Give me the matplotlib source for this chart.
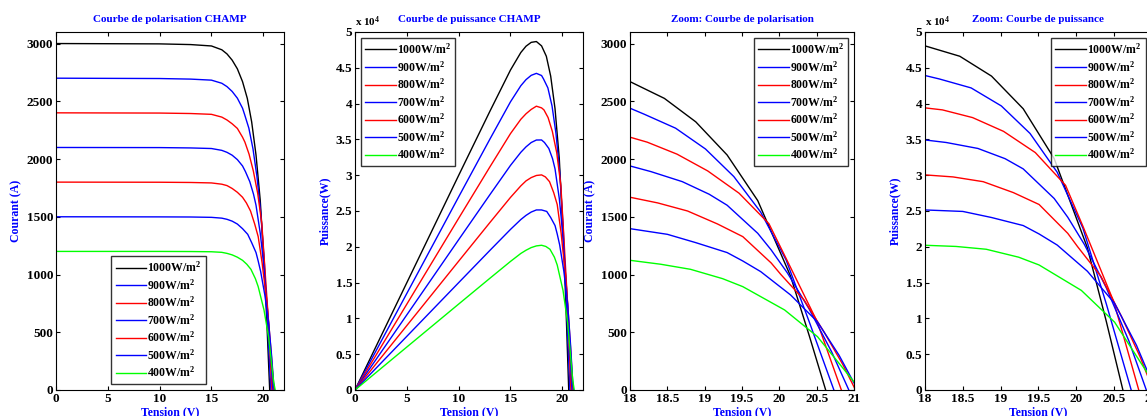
import numpy as np
import matplotlib
matplotlib.use('Agg')
import matplotlib.pyplot as plt
from matplotlib.ticker import FuncFormatter

plt.rcParams['font.family'] = ['Liberation Serif', 'DejaVu Serif']
plt.rcParams['font.weight'] = 'bold'
plt.rcParams['mathtext.fontset'] = 'custom'
plt.rcParams['mathtext.rm'] = 'Liberation Serif:bold'
plt.rcParams['mathtext.it'] = 'Liberation Serif:bold'
plt.rcParams['mathtext.bf'] = 'Liberation Serif:bold'

# I-V points (tension in V, courant in A)
V_1000 = [0, 10, 13, 15, 16, 16.5, 17, 17.5, 18, 18.46, 18.88, 19.30, 19.71, 20.15, 20.40, 20.62]
I_1000 = [3000, 2997, 2991, 2979, 2946, 2910, 2856, 2781, 2670, 2525, 2322, 2035, 1640, 985, 470, 0]

V_900 = [0, 10, 13, 15, 16, 16.5, 17, 17.5, 18, 18.19, 18.61, 19.01, 19.39, 19.75, 20.09, 20.40, 20.73]
I_900 = [2700, 2697, 2692, 2683, 2656, 2627, 2585, 2527, 2440, 2388, 2267, 2087, 1848, 1540, 1126, 590, 0]

V_800 = [0, 10, 13, 15, 16, 16.5, 17, 17.5, 18, 18.23, 18.63, 19.04, 19.46, 19.86, 20.10, 20.50, 20.83]
I_800 = [2400, 2398, 2394, 2387, 2363, 2338, 2305, 2265, 2189, 2146, 2042, 1897, 1704, 1440, 1126, 600, 0]

V_700 = [0, 10, 13, 15, 16, 16.5, 17, 17.5, 18, 18.28, 18.70, 19.06, 19.30, 19.71, 19.89, 20.11, 20.40, 20.70, 20.93]
I_700 = [2100, 2099, 2096, 2091, 2075, 2058, 2033, 1995, 1940, 1891, 1804, 1695, 1600, 1357, 1213, 1011, 700, 330, 0]

V_600 = [0, 10, 13, 15, 16, 16.5, 17, 17.5, 18, 18.37, 18.77, 19.17, 19.51, 19.89, 20.02, 20.33, 20.60, 20.85, 21.02]
I_600 = [1800, 1799, 1797, 1793, 1782, 1770, 1745, 1712, 1669, 1620, 1550, 1438, 1328, 1100, 1000, 780, 500, 220, 0]

V_500 = [0, 10, 13, 15, 16, 16.5, 17, 17.5, 18, 18.50, 18.88, 19.30, 19.51, 19.75, 20.15, 20.51, 20.80, 21.00, 21.08]
I_500 = [1500, 1499, 1498, 1495, 1488, 1478, 1462, 1437, 1397, 1348, 1276, 1190, 1117, 1025, 823, 590, 300, 60, 0]

V_400 = [0, 10, 13, 15, 16, 16.5, 17, 17.5, 18, 18.41, 18.81, 19.24, 19.51, 20.07, 20.51, 21.00, 21.15]
I_400 = [1200, 1200, 1199, 1197, 1192, 1183, 1170, 1150, 1123, 1089, 1045, 964, 895, 693, 462, 70, 0]

curves = [(V_1000, I_1000), (V_900, I_900), (V_800, I_800), (V_700, I_700),
          (V_600, I_600), (V_500, I_500), (V_400, I_400)]
labels = ['1000W/m$^2$', '900W/m$^2$', '800W/m$^2$', '700W/m$^2$',
          '600W/m$^2$', '500W/m$^2$', '400W/m$^2$']
colors = ['#000000', '#0000ff', '#ff0000', '#0000ff', '#ff0000', '#0000ff', '#00ff00']

fig = plt.figure(figsize=(11.47, 4.16), dpi=100)
h = 0.8606
b = 0.0625
ax1 = fig.add_axes([0.0488, b, 0.1988, h])
ax2 = fig.add_axes([0.3095, b, 0.1988, h])
ax3 = fig.add_axes([0.5493, b, 0.1953, h])
ax4 = fig.add_axes([0.8065, b, 0.1975, h])

blue = '#0000ff'
fs = 9.5

for ax, power in [(ax1, False), (ax2, True), (ax3, False), (ax4, True)]:
    for (v, i), c, lab in zip(curves, colors, labels):
        v = np.array(v, dtype=float)
        i = np.array(i, dtype=float)
        y = v * i if power else i
        ax.plot(v, y, color=c, lw=1.0, label=lab)
    ax.tick_params(direction='in', top=True, right=True, length=3, labelsize=fs, pad=2)
    for t in ax.get_xticklabels() + ax.get_yticklabels():
        t.set_fontweight('bold')
    ax.set_xlabel('Tension (V)', color=blue, fontsize=8.5, fontweight='bold', labelpad=1)

for ax in (ax1, ax3):
    ax.set_ylim(0, 3100)
    ax.set_yticks(np.arange(0, 3001, 500))
    ax.set_ylabel('Courant (A)', color=blue, fontsize=8.5, fontweight='bold', labelpad=3)
for ax in (ax2, ax4):
    ax.set_ylim(0, 50000)
    ax.set_yticks(np.arange(0, 50001, 5000))
    ax.yaxis.set_major_formatter(FuncFormatter(lambda val, pos: '%g' % (val / 1e4)))
    ax.set_ylabel('Puissance(W)', color=blue, fontsize=8.5, fontweight='bold', labelpad=3)
    ax.text(0.0, 1.008, r'x 10$^{4}$', transform=ax.transAxes, ha='left', va='bottom', fontsize=8)
for ax in (ax1, ax2):
    ax.set_xlim(0, 22)
    ax.set_xticks([0, 5, 10, 15, 20])
for ax in (ax3, ax4):
    ax.set_xlim(18, 21)
    ax.set_xticks([18, 18.5, 19, 19.5, 20, 20.5, 21])
    ax.xaxis.set_major_formatter(FuncFormatter(lambda val, pos: '%g' % val))

ax1.set_title('Courbe de polarisation CHAMP', color=blue, fontsize=8, fontweight='bold', pad=7)
ax2.set_title('Courbe de puissance CHAMP', color=blue, fontsize=8, fontweight='bold', pad=7)
ax3.set_title('Zoom: Courbe de polarisation', color=blue, fontsize=8, fontweight='bold', pad=7)
ax4.set_title('Zoom: Courbe de puissance', color=blue, fontsize=8, fontweight='bold', pad=7)

leg_kw = dict(fontsize=8.5, frameon=True, fancybox=False, edgecolor='black', handlelength=2.6,
              handletextpad=0.1, labelspacing=0.25, borderpad=0.35, borderaxespad=0.5)
legs = [ax1.legend(loc='lower center', bbox_to_anchor=(0.45, 0.0), **leg_kw),
        ax2.legend(loc='upper left', **leg_kw),
        ax3.legend(loc='upper right', **leg_kw),
        ax4.legend(loc='upper right', **leg_kw)]
for lg in legs:
    lg.get_frame().set_linewidth(1.0)

fig.savefig('out.png', dpi=100)
